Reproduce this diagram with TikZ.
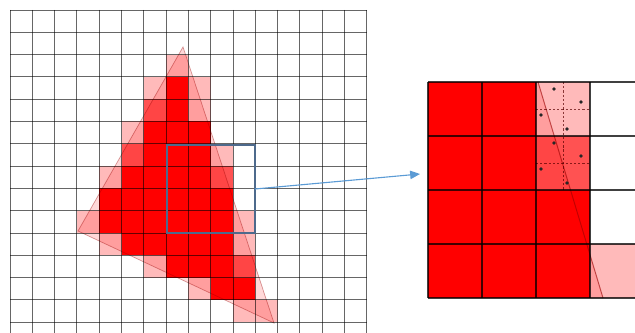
\documentclass[tikz,border=0pt]{standalone}
\usepackage{tikz}
\usetikzlibrary{arrows.meta}
\definecolor{pixred}{RGB}{255,0,0}
\definecolor{frameblue}{RGB}{78,106,140}
\definecolor{arrowblue}{RGB}{91,155,213}
\tikzset{
  fullpix/.style={fill=pixred},
  halfpix/.style={fill=pixred!68},
  edgepix/.style={fill=pixred!27},
  gridline/.style={draw=black, draw opacity=0.6, line width=0.7pt},
  biggrid/.style={draw=black, draw opacity=0.75, line width=1.1pt},
  tri/.style={fill=red, fill opacity=0.15},
  triedge/.style={draw=red!60!black, draw opacity=0.4, line width=0.5pt},
  zoomframe/.style={draw=frameblue, line width=0.9pt, inner sep=0pt, outer sep=0pt, minimum width=2.2cm, minimum height=2.2cm},
  zoomarrow/.style={draw=arrowblue, line width=0.8pt, -{Triangle[length=7pt,width=6pt]}},
  subline/.style={draw=red!35!black, draw opacity=0.7, dash pattern=on 1.6pt off 1.4pt, line width=0.5pt}
}
% one cell of the small grid (column, row, style)
\newcommand{\pix}[3]{\fill[#3] ({10+22.3*#1},{10+22.3*#2}) rectangle ++(22.3,22.3);}
% one cell of the enlarged grid
\newcommand{\bigpix}[3]{\fill[#3] ({428+54*#1},{82+54*#2}) rectangle ++(54,54);}

\begin{document}
\begin{tikzpicture}[x=0.025cm, y=-0.025cm]
    \useasboundingbox (0,0) rectangle (635,333);
    \clip (0,0) rectangle (635,333);

    % 1. Pixels of the rasterised triangle
    \foreach \c/\r in {7/3, 7/4, 6/5, 7/5, 8/5, 6/6, 7/6, 8/6,
        5/7, 6/7, 7/7, 8/7, 4/8, 5/8, 6/8, 7/8, 8/8, 9/8,
        4/9, 5/9, 6/9, 7/9, 8/9, 9/9, 5/10, 6/10, 7/10, 8/10, 9/10,
        7/11, 8/11, 9/11, 9/12, 10/12}
        \pix{\c}{\r}{fullpix};
    \foreach \c/\r in {6/4, 5/6, 9/7, 10/11}
        \pix{\c}{\r}{halfpix};
    \foreach \c/\r in {7/2, 6/3, 8/3, 8/4, 5/5, 9/6, 4/7, 3/9, 10/9,
        4/10, 10/10, 6/11, 8/12, 10/13, 11/13}
        \pix{\c}{\r}{edgepix};

    % Triangle
    \fill[tri] (183,47) -- (78,231) -- (274,323) -- cycle;
    \draw[triedge] (183,47) -- (78,231) -- (274,323) -- cycle;

    % 2. Grid
    \foreach \k in {0,...,16}
        \draw[gridline] ({10+22.3*\k},10) -- ({10+22.3*\k},333);
    \foreach \k in {0,...,14}
        \draw[gridline] (10,{10+22.3*\k}) -- (366.8,{10+22.3*\k});

    % Frame of the enlarged part
    \node[zoomframe] (zoombox) at (211,189) {};

    % 3. Enlarged part
    \foreach \c/\r in {0/0, 1/0, 0/1, 1/1, 0/2, 1/2, 2/2, 0/3, 1/3, 2/3}
        \bigpix{\c}{\r}{fullpix};
    \bigpix{2}{1}{halfpix};
    \bigpix{2}{0}{edgepix};
    \bigpix{3}{3}{edgepix};
    \fill[tri] (428,82) -- (538,82) -- (603,298) -- (428,298) -- cycle;
    \draw[triedge, draw opacity=0.6, line width=0.7pt] (538,82) -- (603,298);

    % Sample positions
    \draw[subline] (563,82) -- (563,190);
    \foreach \r in {0,1} {
        \draw[subline] (536,{109+54*\r}) -- (590,{109+54*\r});
        \foreach \dx/\dy in {18/7, 45/20, 5/33, 31/47}
            \fill[black!85] ({536+\dx},{82+54*\r+\dy}) circle (1.4pt);
    }

    \foreach \k in {0,...,4}
        \draw[biggrid] ({428+54*\k},82) -- ({428+54*\k},298);
    \foreach \k in {0,...,4}
        \draw[biggrid] (428,{82+54*\k}) -- (644,{82+54*\k});

    % 4. Arrow
    \coordinate (insetin) at (420,174);
    \draw[zoomarrow] (zoombox.east) -- (insetin);
\end{tikzpicture}
\end{document}
